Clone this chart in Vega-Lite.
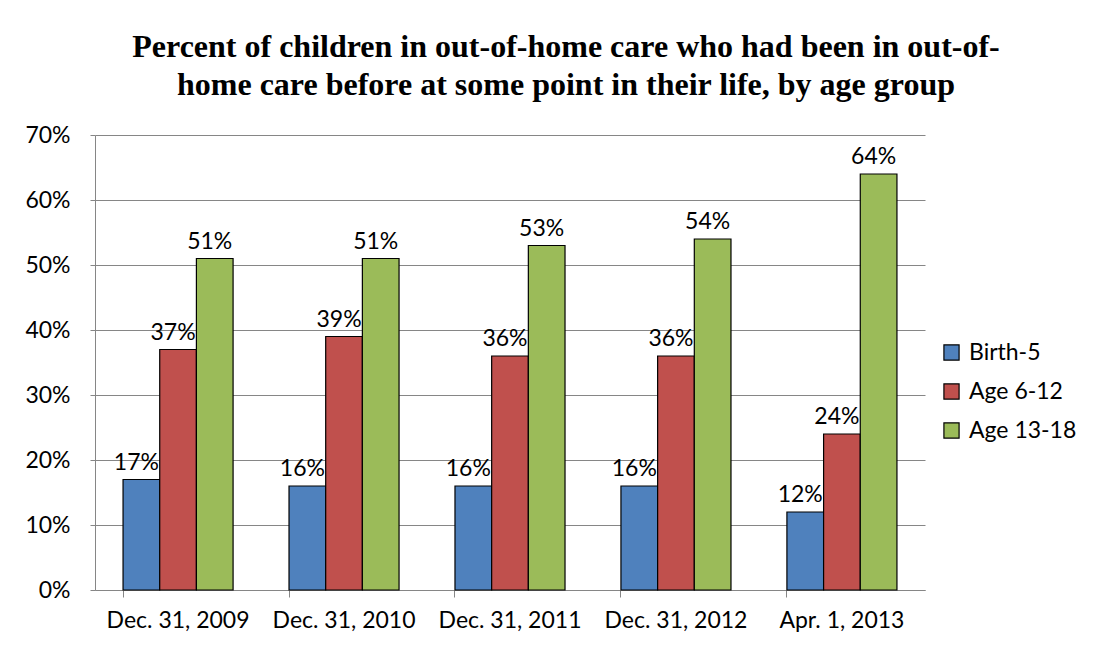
{
  "$schema": "https://vega.github.io/schema/vega-lite/v6.json",
  "width": 830,
  "height": 455,
  "autosize": "none",
  "padding": {"left": 95, "top": 135, "right": 187, "bottom": 62},
  "background": "white",
  "title": {
    "text": ["Percent of children in out-of-home care who had been in out-of-", "home care before at some point in their life, by age group"],
    "font": "Liberation Serif",
    "fontSize": 32,
    "fontWeight": "bold",
    "color": "black",
    "anchor": "middle",
    "dx": 56,
    "offset": 22,
    "lineHeight": 38
  },
  "data": {
    "values": [
      {"date": "Dec. 31, 2009", "group": "Birth-5", "value": 0.17},
      {"date": "Dec. 31, 2009", "group": "Age 6-12", "value": 0.37},
      {"date": "Dec. 31, 2009", "group": "Age 13-18", "value": 0.51},
      {"date": "Dec. 31, 2010", "group": "Birth-5", "value": 0.16},
      {"date": "Dec. 31, 2010", "group": "Age 6-12", "value": 0.39},
      {"date": "Dec. 31, 2010", "group": "Age 13-18", "value": 0.51},
      {"date": "Dec. 31, 2011", "group": "Birth-5", "value": 0.16},
      {"date": "Dec. 31, 2011", "group": "Age 6-12", "value": 0.36},
      {"date": "Dec. 31, 2011", "group": "Age 13-18", "value": 0.53},
      {"date": "Dec. 31, 2012", "group": "Birth-5", "value": 0.16},
      {"date": "Dec. 31, 2012", "group": "Age 6-12", "value": 0.36},
      {"date": "Dec. 31, 2012", "group": "Age 13-18", "value": 0.54},
      {"date": "Apr. 1, 2013", "group": "Birth-5", "value": 0.12},
      {"date": "Apr. 1, 2013", "group": "Age 6-12", "value": 0.24},
      {"date": "Apr. 1, 2013", "group": "Age 13-18", "value": 0.64}
    ]
  },
  "encoding": {
    "x": {
      "field": "date",
      "type": "nominal",
      "sort": ["Dec. 31, 2009", "Dec. 31, 2010", "Dec. 31, 2011", "Dec. 31, 2012", "Apr. 1, 2013"],
      "scale": {"paddingInner": 0.337, "paddingOuter": 0.169},
      "axis": {
        "title": null,
        "labelAngle": 0,
        "labelFont": "Lato",
        "labelFontSize": 23,
        "labelColor": "black",
        "labelPadding": 12,
        "labelOverlap": false,
        "domainColor": "#868686",
        "tickColor": "#868686",
        "tickSize": 7,
        "bandPosition": 0,
        "grid": false
      }
    },
    "xOffset": {
      "field": "group",
      "type": "nominal",
      "sort": ["Birth-5", "Age 6-12", "Age 13-18"],
      "scale": {"paddingInner": 0, "paddingOuter": 0}
    },
    "y": {
      "field": "value",
      "type": "quantitative",
      "scale": {"domain": [0, 0.7]},
      "axis": {
        "title": null,
        "format": ".0%",
        "values": [0, 0.1, 0.2, 0.3, 0.4, 0.5, 0.6, 0.7],
        "labelOverlap": false,
        "labelFont": "Lato",
        "labelFontSize": 23,
        "labelColor": "black",
        "labelPadding": 20,
        "domainColor": "#868686",
        "tickColor": "#868686",
        "tickSize": 5,
        "gridColor": "#868686",
        "gridWidth": 1
      }
    }
  },
  "layer": [
    {
      "mark": {"type": "bar", "stroke": "black", "strokeWidth": 1.2},
      "encoding": {
        "color": {
          "field": "group",
          "type": "nominal",
          "sort": ["Birth-5", "Age 6-12", "Age 13-18"],
          "scale": {"domain": ["Birth-5", "Age 6-12", "Age 13-18"], "range": ["#4F81BD", "#C0504D", "#9BBB59"]},
          "legend": {
            "title": null,
            "orient": "none",
            "legendX": 845,
            "legendY": 206,
            "symbolType": "square",
            "symbolSize": 230,
            "symbolStrokeColor": "black",
            "symbolStrokeWidth": 1.2,
            "symbolOpacity": 1,
            "labelFont": "Lato",
            "labelFontSize": 23,
            "labelColor": "black",
            "rowPadding": 15,
            "labelOffset": 6
          }
        }
      }
    },
    {
      "mark": {"type": "text", "baseline": "bottom", "dy": -5, "dx": -5, "font": "Lato", "fontSize": 23, "color": "black"},
      "encoding": {
        "text": {"field": "value", "type": "quantitative", "format": ".0%"}
      }
    }
  ],
  "config": {
    "view": {"stroke": null}
  }
}
